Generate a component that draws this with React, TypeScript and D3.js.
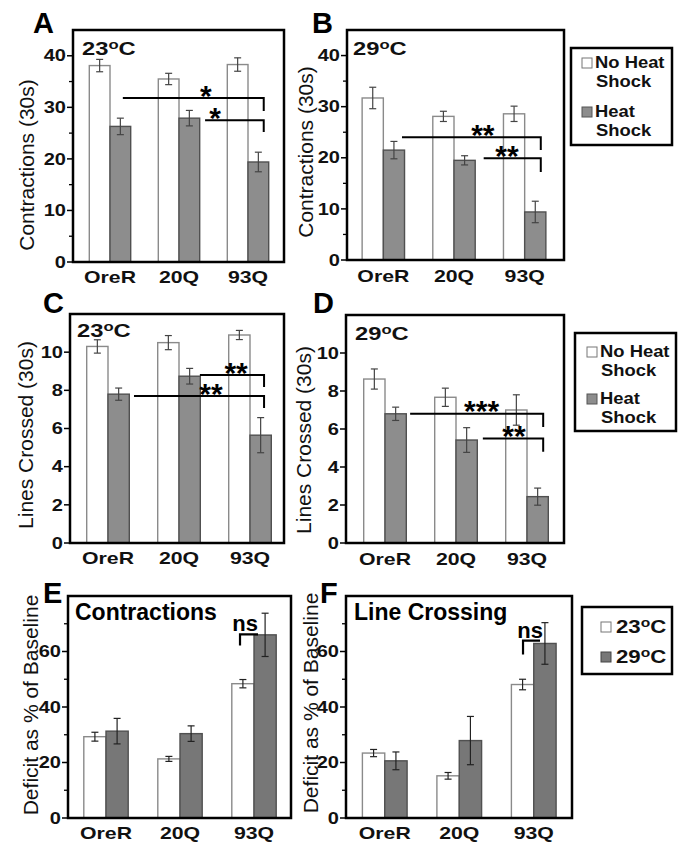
import * as d3 from "d3";

// categories shared by every panel
const categories = ["OreR", "20Q", "93Q"];
const series = ["a", "b"];

// A: contractions at 23°C
const contr23NoHS = [38.1, 35.5, 38.3];
const contr23NoHSErr = [1.2, 1.1, 1.3];
const contr23HS = [26.3, 27.9, 19.4];
const contr23HSErr = [1.6, 1.5, 1.9];

// B: contractions at 29°C
const contr29NoHS = [31.7, 28.1, 28.6];
const contr29NoHSErr = [2.1, 1.0, 1.5];
const contr29HS = [21.5, 19.5, 9.4];
const contr29HSErr = [1.7, 0.9, 2.1];

// C: lines crossed at 23°C
const lines23NoHS = [10.3, 10.5, 10.9];
const lines23NoHSErr = [0.35, 0.37, 0.24];
const lines23HS = [7.8, 8.74, 5.65];
const lines23HSErr = [0.32, 0.41, 0.92];

// D: lines crossed at 29°C
const lines29NoHS = [8.63, 7.67, 7.0];
const lines29NoHSErr = [0.53, 0.48, 0.8];
const lines29HS = [6.8, 5.42, 2.44];
const lines29HSErr = [0.35, 0.65, 0.45];

// E: contraction deficit (% of baseline)
const contrDef23 = [29.3, 21.3, 48.4];
const contrDef23Err = [1.6, 0.9, 1.5];
const contrDef29 = [31.3, 30.4, 66.0];
const contrDef29Err = [4.6, 2.8, 7.8];

// F: line crossing deficit (% of baseline)
const lineDef23 = [23.4, 15.2, 48.1];
const lineDef23Err = [1.3, 1.2, 1.9];
const lineDef29 = [20.6, 27.9, 62.9];
const lineDef29Err = [3.2, 8.7, 7.5];

// significance brackets: [category, fraction of band] for ends and label
const bracketsA = [
  { from: [0, 0.81], to: [2, 0.88], level: 31.8, drop: 29.3, label: "*", at: [1, 1.15] },
  { from: [1, 1.13], to: [2, 0.88], level: 27.5, drop: 25.2, label: "*", at: [1, 1.37] },
];
const bracketsB = [
  { from: [0, 0.94], to: [2, 0.88], level: 24.0, drop: 21.5, label: "**", at: [1, 1.18] },
  { from: [1, 1.2], to: [2, 0.88], level: 19.9, drop: 17.2, label: "**", at: [1, 1.75] },
];
const bracketsC = [
  { from: [1, 0.99], to: [2, 0.83], level: 8.8, drop: 8.17, label: "**", at: [1, 1.84] },
  { from: [0, 1.11], to: [2, 0.83], level: 7.7, drop: 7.07, label: "**", at: [1, 1.25] },
];
const bracketsD = [
  { from: [0, 1.09], to: [2, 0.88], level: 6.8, drop: 6.1, label: "***", at: [1, 1.1] },
  { from: [1, 1.13], to: [2, 0.88], level: 5.5, drop: 4.8, label: "**", at: [1, 1.86] },
];

const legendHeat = [["No Heat", "Shock"], ["Heat", "Shock"]];
const legendTemp = ["23", "29"];

const FONT = "'Liberation Sans', Arial, Helvetica, sans-serif";
const GRAY = "#8d8d8d";
const DARK = "#777777";

const panels = [
  {
    letter: "A", lx: 33, ly: 33, left: 73, right: 284, band: [75.5, 282.5],
    domain: [0, 45], range: [262, 30], ticks: [0, 10, 20, 30, 40], minor: [5, 15, 25, 35],
    yLabel: "Contractions (30s)", ylx: 34, yly: 165, xly: 283,
    sub: "23", subX: 82, subY: 55,
    a: contr23NoHS, aErr: contr23NoHSErr, b: contr23HS, bErr: contr23HSErr, fill: GRAY,
    brackets: bracketsA,
  },
  {
    letter: "B", lx: 312, ly: 33, left: 347, right: 564, band: [348, 560],
    domain: [0, 45], range: [260, 30], ticks: [0, 10, 20, 30, 40], minor: [5, 15, 25, 35],
    yLabel: "Contractions (30s)", ylx: 313, yly: 152, xly: 282,
    sub: "29", subX: 353, subY: 55,
    a: contr29NoHS, aErr: contr29NoHSErr, b: contr29HS, bErr: contr29HSErr, fill: GRAY,
    brackets: bracketsB,
  },
  {
    letter: "C", lx: 43, ly: 313, left: 70, right: 284, band: [72.5, 285.5],
    domain: [0, 12], range: [543, 314], ticks: [0, 2, 4, 6, 8, 10], minor: [],
    yLabel: "Lines Crossed (30s)", ylx: 33, yly: 435, xly: 564,
    sub: "23", subX: 77, subY: 337,
    a: lines23NoHS, aErr: lines23NoHSErr, b: lines23HS, bErr: lines23HSErr, fill: GRAY,
    brackets: bracketsC,
  },
  {
    letter: "D", lx: 313, ly: 313, left: 346, right: 564, band: [349.5, 562.5],
    domain: [0, 12], range: [543, 315], ticks: [0, 2, 4, 6, 8, 10], minor: [],
    yLabel: "Lines Crossed (30s)", ylx: 311, yly: 440, xly: 565,
    sub: "29", subX: 355, subY: 340,
    a: lines29NoHS, aErr: lines29NoHSErr, b: lines29HS, bErr: lines29HSErr, fill: GRAY,
    brackets: bracketsD,
  },
  {
    letter: "E", lx: 43, ly: 603, left: 68, right: 291, band: [69, 291],
    domain: [0, 80], range: [818, 596], ticks: [0, 20, 40, 60], minor: [10, 30, 50, 70],
    yLabel: "Deficit as % of Baseline", ylx: 38, yly: 705, xly: 839,
    title: "Contractions", subX: 75, subY: 620,
    a: contrDef23, aErr: contrDef23Err, b: contrDef29, bErr: contrDef29Err, fill: DARK,
    ns: { from: 0.185, to: 0.59, level: 66.2, drop: 62.2, at: 0.3, baseY: 631 },
  },
  {
    letter: "F", lx: 320, ly: 603, left: 346, right: 572, band: [347.5, 571],
    domain: [0, 80], range: [818, 596], ticks: [0, 20, 40, 60], minor: [10, 30, 50, 70],
    yLabel: "Deficit as % of Baseline", ylx: 318, yly: 703, xly: 839,
    title: "Line Crossing", subX: 354, subY: 620,
    a: lineDef23, aErr: lineDef23Err, b: lineDef29, bErr: lineDef29Err, fill: DARK,
    ns: { from: 0.26, to: 0.64, level: 63.9, drop: 58.9, at: 0.42, baseY: 638 },
  },
];

const Stretch = ({ x, y, sx = 1.25, anchor = "start", size, weight = "bold", children }: any) => (
  <text
    transform={`translate(${x},${y}) scale(${sx},1)`}
    textAnchor={anchor}
    fontSize={size}
    fontWeight={weight}
    fontFamily={FONT}
    fill="#111"
  >
    {children}
  </text>
);

// "23" + raised "o" + "C"
const Degree = ({ t, big }: any) => (
  <>
    {t}
    <tspan fontSize={big * 0.7} dy={-big * 0.3}>o</tspan>
    <tspan dy={big * 0.3}>C</tspan>
  </>
);

const Panel = ({ p }: any) => {
  const x = d3.scaleBand().domain(categories).range(p.band).paddingInner(0.4).paddingOuter(0.2);
  const xs = d3.scaleBand().domain(series).range([0, x.bandwidth()]);
  const y = d3.scaleLinear().domain(p.domain).range(p.range);
  const bx = (c: number, f: number) => (x(categories[c]) as number) + f * x.bandwidth();

  const rows = categories.map((c, i) => [
    { s: "a", v: p.a[i], e: p.aErr[i], c },
    { s: "b", v: p.b[i], e: p.bErr[i], c },
  ]).flat();

  const top = y(p.domain[1]);
  const bottom = y(0);

  return (
    <g>
      {/* bars */}
      {rows.map((d, i) => {
        const x0 = (x(d.c) as number) + (xs(d.s) as number);
        return (
          <rect
            key={i}
            x={x0}
            y={y(d.v)}
            width={xs.bandwidth()}
            height={bottom - y(d.v)}
            fill={d.s === "a" ? "#fff" : p.fill}
            stroke={d.s === "a" ? "#8a8a8a" : "#505050"}
            strokeWidth={1.4}
          />
        );
      })}
      {/* error bars */}
      {rows.map((d, i) => {
        const cx = (x(d.c) as number) + (xs(d.s) as number) + xs.bandwidth() / 2;
        const col = p.fill === DARK ? "#222" : "#444";
        return (
          <g key={i} stroke={col} strokeWidth={1.2}>
            <line x1={cx} x2={cx} y1={y(d.v - d.e)} y2={y(d.v + d.e)} />
            <line x1={cx - 3.5} x2={cx + 3.5} y1={y(d.v + d.e)} y2={y(d.v + d.e)} />
            <line x1={cx - 3.5} x2={cx + 3.5} y1={y(d.v - d.e)} y2={y(d.v - d.e)} />
          </g>
        );
      })}
      {/* significance brackets */}
      {(p.brackets || []).map((b: any, i: number) => {
        const x1 = bx(b.from[0], b.from[1]);
        const x2 = bx(b.to[0], b.to[1]);
        const fs = 30;
        return (
          <g key={i}>
            <path
              d={`M${x1},${y(b.level)}H${x2}V${y(b.drop)}`}
              fill="none"
              stroke="#000"
              strokeWidth={2}
            />
            <text
              x={bx(b.at[0], b.at[1])}
              y={y(b.level) - 8 + fs * 0.52}
              textAnchor="middle"
              fontSize={fs}
              fontWeight="bold"
              fontFamily={FONT}
            >
              {b.label}
            </text>
          </g>
        );
      })}
      {p.ns && (
        <g>
          <path
            d={`M${bx(2, p.ns.from)},${y(p.ns.drop)}V${y(p.ns.level)}H${bx(2, p.ns.to)}`}
            fill="none"
            stroke="#000"
            strokeWidth={2.2}
          />
          <text
            x={bx(2, p.ns.at)}
            y={p.ns.baseY}
            textAnchor="middle"
            fontSize={22}
            fontWeight="bold"
            fontFamily={FONT}
          >
            ns
          </text>
        </g>
      )}
      {/* frame */}
      <rect x={p.left} y={top} width={p.right - p.left} height={bottom - top} fill="none" stroke="#000" strokeWidth={2.5} />
      {/* y ticks */}
      {p.ticks.map((t: number) => (
        <g key={t}>
          <line x1={p.left - 6} x2={p.left} y1={y(t)} y2={y(t)} stroke="#000" strokeWidth={1.5} />
          <Stretch x={p.left - 7} y={y(t) + 5.7} anchor="end" size={16}>
            {t}
          </Stretch>
        </g>
      ))}
      {p.minor.map((t: number) => (
        <line key={t} x1={p.left - 4} x2={p.left} y1={y(t)} y2={y(t)} stroke="#000" strokeWidth={1.3} />
      ))}
      {/* x labels */}
      {categories.map((c) => (
        <Stretch key={c} x={(x(c) as number) + x.bandwidth() / 2} y={p.xly} anchor="middle" size={17}>
          {c}
        </Stretch>
      ))}
      {/* y axis title */}
      <text
        transform={`translate(${p.ylx},${p.yly}) rotate(-90)`}
        textAnchor="middle"
        fontSize={21}
        fontFamily={FONT}
        fill="#111"
      >
        {p.yLabel}
      </text>
      {/* panel letter */}
      <text x={p.lx} y={p.ly} fontSize={29} fontWeight="bold" fontFamily={FONT}>
        {p.letter}
      </text>
      {p.sub && (
        <Stretch x={p.subX} y={p.subY} size={19}>
          <Degree t={p.sub} big={19} />
        </Stretch>
      )}
      {p.title && (
        <text x={p.subX} y={p.subY} fontSize={23} fontWeight="bold" fontFamily={FONT}>
          {p.title}
        </text>
      )}
    </g>
  );
};

const HeatLegend = ({ x0, y0, w, h, sq, tx, rows }: any) => (
  <g>
    <rect x={x0} y={y0} width={w} height={h} fill="#fff" stroke="#000" strokeWidth={2.5} />
    {legendHeat.map((lines, i) => (
      <g key={i}>
        <rect
          x={sq}
          y={rows[i] - 10}
          width={10}
          height={10}
          fill={i === 0 ? "#fff" : GRAY}
          stroke={i === 0 ? "#777" : "#555"}
          strokeWidth={1}
        />
        {lines.map((l, j) => (
          <Stretch key={j} x={tx + (j > 0 ? 1 : 0)} y={rows[i] + j * 19} sx={1.15} size={16}>
            {l}
          </Stretch>
        ))}
      </g>
    ))}
  </g>
);

const App = () => {
  return (
    <svg
      width={683}
      height={846}
      style={{ position: "absolute", left: 0, top: 0, background: "#fff" }}
    >
      <rect width={683} height={846} fill="#fff" />
      {panels.map((p) => (
        <Panel key={p.letter} p={p} />
      ))}
      <HeatLegend x0={571} y0={48} w={101} h={97} sq={582} tx={595} rows={[68, 117]} />
      <HeatLegend x0={575} y0={333} w={101} h={98} sq={587} tx={600} rows={[357, 404]} />
      {/* temperature legend */}
      <g>
        <rect x={582} y={607} width={90} height={67} fill="#fff" stroke="#000" strokeWidth={2.5} />
        {legendTemp.map((t, i) => (
          <g key={t}>
            <rect
              x={601}
              y={622 + i * 30}
              width={10}
              height={10}
              fill={i === 0 ? "#fff" : DARK}
              stroke={i === 0 ? "#777" : "#444"}
              strokeWidth={1}
            />
            <Stretch x={616} y={633 + i * 30} sx={1.17} size={19}>
              <Degree t={t} big={19} />
            </Stretch>
          </g>
        ))}
      </g>
    </svg>
  );
};

export default App;
